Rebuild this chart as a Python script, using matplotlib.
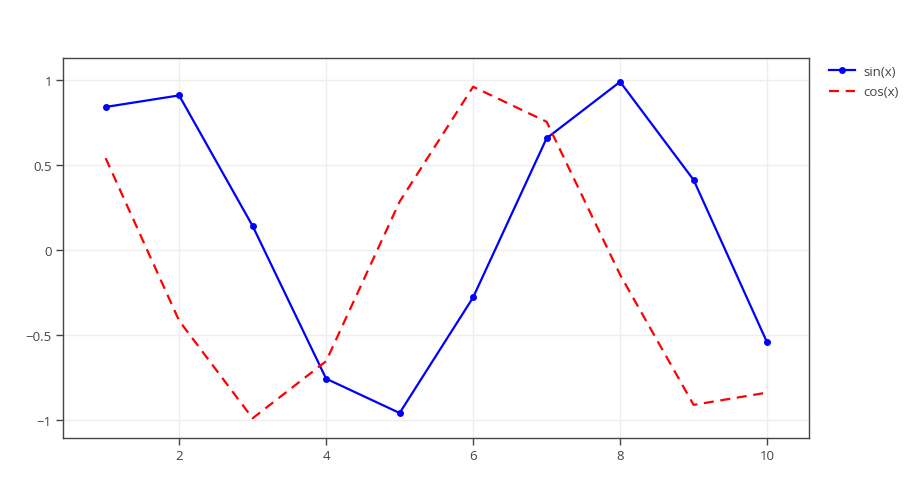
import matplotlib
matplotlib.use("Agg")
import matplotlib.pyplot as plt
from matplotlib.lines import Line2D

x = [1, 2, 3, 4, 5, 6, 7, 8, 9, 10]
sin_vals = [0.841, 0.909, 0.141, -0.757, -0.959, -0.279, 0.657, 0.989, 0.412, -0.544]
cos_vals = [0.540, -0.416, -0.990, -0.654, 0.284, 0.960, 0.754, -0.146, -0.911, -0.839]
xticks = [2, 4, 6, 8, 10]
yticks = [-1, -0.5, 0, 0.5, 1]
yticklabels = ["\u22121", "\u22120.5", "0", "0.5", "1"]

plt.rcParams['font.family'] = ['Open Sans', 'DejaVu Sans']
fig = plt.figure(figsize=(9.19, 4.89), dpi=100)
ax = fig.add_axes([63/919, 1-439/489, (809-63)/919, (439-59)/489])

ax.plot(x, sin_vals, color='#0000ff', lw=1.6, marker='o', ms=5, mew=0, label='sin(x)', zorder=3)
ax.plot(x, cos_vals, color='#ff0000', lw=1.6, ls=(0, (4.5, 3)), label='cos(x)', zorder=3)

ax.set_xlim(0.42, 10.57)
ax.set_ylim(-1.106, 1.129)
ax.set_xticks(xticks)
ax.set_xticklabels([str(t) for t in xticks])
ax.set_yticks(yticks)
ax.set_yticklabels(yticklabels)
ax.grid(True, color='#eeeeee', lw=1)
ax.set_axisbelow(True)
for s in ax.spines.values():
    s.set_color('#444444')
    s.set_linewidth(1)
ax.tick_params(axis='both', direction='out', length=5, width=1, color='#444444',
               labelcolor='#444444', labelsize=9.5, pad=3)

handles = [Line2D([], [], color='#0000ff', lw=1.6, marker='o', ms=5, mew=0),
           Line2D([], [], color='#ff0000', lw=1.6, ls=(0, (4.5, 3)))]
fig.legend(handles, ['sin(x)', 'cos(x)'], loc='upper left',
           bbox_to_anchor=(829/919, 1-66/489), frameon=False, fontsize=9.5,
           labelcolor='#444444', handlelength=2.0, handletextpad=0.6,
           labelspacing=0.55, borderpad=0, borderaxespad=0)

fig.savefig('out.png', dpi=100)
